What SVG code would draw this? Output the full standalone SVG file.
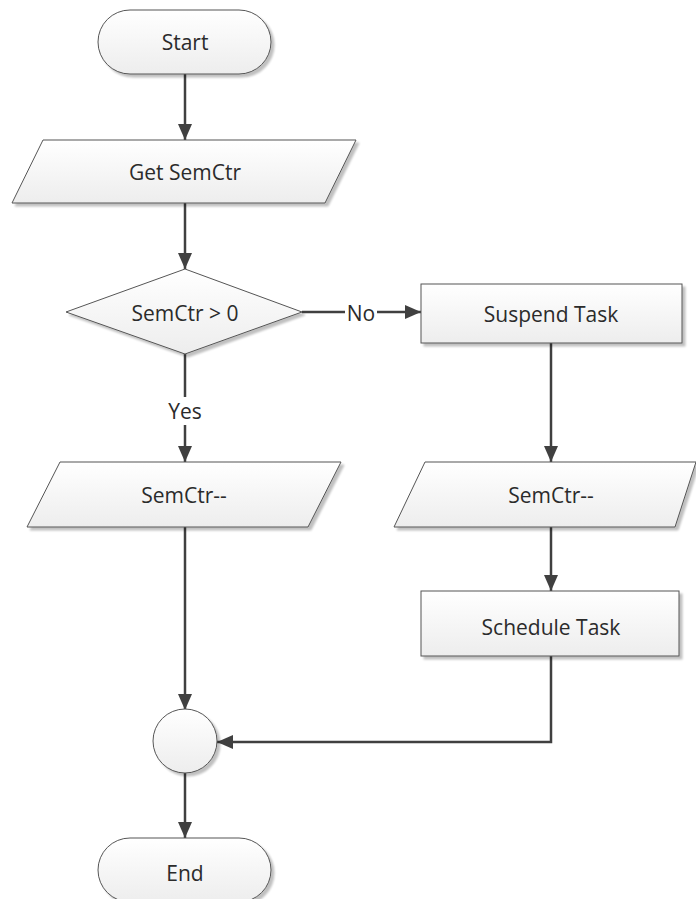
<svg xmlns="http://www.w3.org/2000/svg" width="696" height="899" viewBox="0 0 696 899">
  <defs>
    <linearGradient id="fillGrad" x1="0" y1="0" x2="0" y2="1">
      <stop offset="0" stop-color="#ffffff"/>
      <stop offset="1" stop-color="#ededed"/>
    </linearGradient>
    <filter id="shadow" x="-10%" y="-10%" width="130%" height="140%">
      <feGaussianBlur in="SourceAlpha" stdDeviation="1.2"/>
      <feOffset dx="3" dy="3" result="off"/>
      <feComponentTransfer><feFuncA type="linear" slope="0.25"/></feComponentTransfer>
      <feMerge><feMergeNode/><feMergeNode in="SourceGraphic"/></feMerge>
    </filter>
    <marker id="arrow" viewBox="0 0 16 14" refX="16" refY="7" markerWidth="16" markerHeight="14" markerUnits="userSpaceOnUse" orient="auto">
      <path d="M0,0 L16,7 L0,14 z" fill="#404040"/>
    </marker>
  </defs>
  <style>
    .shape { fill: url(#fillGrad); stroke: #555555; stroke-width: 1; filter: url(#shadow); }
    .label { font-family: "Open Sans", "Noto Sans", sans-serif; font-size: 21px; fill: #2b2b2b; text-anchor: middle; dominant-baseline: central; }
    .conn { fill: none; stroke: #404040; stroke-width: 2.5; }
  </style>

  <g id="connectors">
    <line class="conn" x1="185" y1="74" x2="185" y2="140" marker-end="url(#arrow)"/>
    <line class="conn" x1="185" y1="203" x2="185" y2="269" marker-end="url(#arrow)"/>
    <line class="conn" x1="302" y1="312" x2="421" y2="312" marker-end="url(#arrow)"/>
    <line class="conn" x1="185" y1="354" x2="185" y2="462" marker-end="url(#arrow)"/>
    <line class="conn" x1="551" y1="343" x2="551" y2="462" marker-end="url(#arrow)"/>
    <line class="conn" x1="551" y1="527" x2="551" y2="591" marker-end="url(#arrow)"/>
    <line class="conn" x1="185" y1="527" x2="185" y2="710" marker-end="url(#arrow)"/>
    <polyline class="conn" points="551,656 551,742 217,742" marker-end="url(#arrow)"/>
    <line class="conn" x1="185" y1="773" x2="185" y2="838" marker-end="url(#arrow)"/>
    <g id="label-no">
      <rect x="345" y="300" width="32" height="25" fill="#ffffff"/>
      <text class="label" x="361" y="313">No</text>
    </g>
    <g id="label-yes">
      <rect x="165" y="397" width="40" height="28" fill="#ffffff"/>
      <text class="label" x="185" y="411">Yes</text>
    </g>
  </g>

  <g id="start">
    <rect class="shape" x="98" y="10" width="173" height="64" rx="32" ry="32"/>
    <text class="label" x="185" y="42">Start</text>
  </g>

  <g id="get-semctr">
    <polygon class="shape" points="43,140 356,140 325,203 12,203"/>
    <text class="label" x="185" y="172">Get SemCtr</text>
  </g>

  <g id="decision">
    <polygon class="shape" points="185,269 302,312 185,354 66,312"/>
    <text class="label" x="185" y="313">SemCtr &gt; 0</text>
  </g>

  <g id="suspend-task">
    <rect class="shape" x="421" y="284" width="261" height="59"/>
    <text class="label" x="551" y="314">Suspend Task</text>
  </g>

  <g id="semctr-dec-left">
    <polygon class="shape" points="60,462 341,462 308,527 27,527"/>
    <text class="label" x="184" y="495">SemCtr--</text>
  </g>

  <g id="semctr-dec-right">
    <polygon class="shape" points="425,462 696,462 675,527 394,527"/>
    <text class="label" x="551" y="495">SemCtr--</text>
  </g>

  <g id="schedule-task">
    <rect class="shape" x="421" y="591" width="258" height="65"/>
    <text class="label" x="551" y="627">Schedule Task</text>
  </g>

  <g id="merge">
    <circle class="shape" cx="185" cy="741" r="32"/>
  </g>

  <g id="end">
    <rect class="shape" x="98" y="838" width="173" height="64" rx="32" ry="32"/>
    <text class="label" x="185" y="873">End</text>
  </g>
</svg>
